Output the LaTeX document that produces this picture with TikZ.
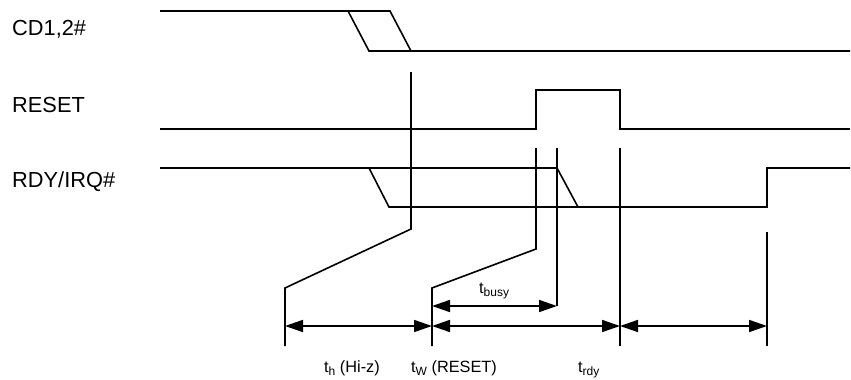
\documentclass[tikz,border=0pt]{standalone}
\usepackage{fontspec}
\setmainfont{Liberation Sans}
\usetikzlibrary{arrows.meta}
\newcommand\lowtxt[1]{\raisebox{-0.4ex}{\fontsize{12}{12}\selectfont #1}}
\begin{document}
\begin{tikzpicture}[x=1pt,y=-1pt,
  sig/.style={line width=1.6pt, line join=miter},
  dim/.style={line width=1.6pt, {Triangle[length=18pt,width=12pt]}-{Triangle[length=18pt,width=12pt]}},
  lab/.style={font=\fontsize{21.8}{21.8}\selectfont, anchor=base west, inner sep=0pt},
  tl/.style={font=\fontsize{16.3}{16.3}\selectfont, anchor=base west, inner sep=0pt}]
\useasboundingbox (0,0) rectangle (851,380);
% signal labels
\node[lab] (cd) at (12,35) {CD1,2\#};
\node[lab] (rs) at (12,112) {RESET};
\node[lab] (rdy) at (12,187) {RDY/IRQ\#};
% CD1,2#
\draw[sig] (160,11) -- (390,11) -- (411,51) -- (850,51);
\draw[sig] (348,11) -- (369,51) -- (411,51);
% RESET
\draw[sig] (160,129) -- (536,129) -- (536,90) -- (620,90) -- (620,129) -- (850,129);
% RDY/IRQ#
\draw[sig] (160,168) -- (557,168) -- (578,207);
\draw[sig] (369,168) -- (389,207) -- (767,207) -- (767,168) -- (850,168);
% guide lines
\draw[sig] (411,72) -- (411,229) -- (285,288) -- (285,346);
\draw[sig] (536,148) -- (536,249) -- (432,288) -- (432,346);
\draw[sig] (557,148) -- (557,306);
\draw[sig] (620,148) -- (620,346);
\draw[sig] (767,232) -- (767,346);
% dimension points
\coordinate (p1) at (285,326);
\coordinate (p2) at (432,326);
\coordinate (p3) at (620,326);
\coordinate (p4) at (767,326);
\coordinate (b1) at (432,306);
\coordinate (b2) at (557,306);
\draw[dim] (p1) -- (p2);
\draw[dim] (p2) -- (p3);
\draw[dim] (p3) -- (p4);
\draw[dim] (b1) -- (b2);
% timing labels
\node[tl] (th) at (324,372) {t\lowtxt{h} (Hi-z)};
\node[tl] (tw) at (411,372) {t\lowtxt{W} (RESET)};
\node[tl] (tr) at (578,372) {t\lowtxt{rdy}};
\node[tl] (tb) at (479,293) {t\lowtxt{busy}};
\end{tikzpicture}
\end{document}
